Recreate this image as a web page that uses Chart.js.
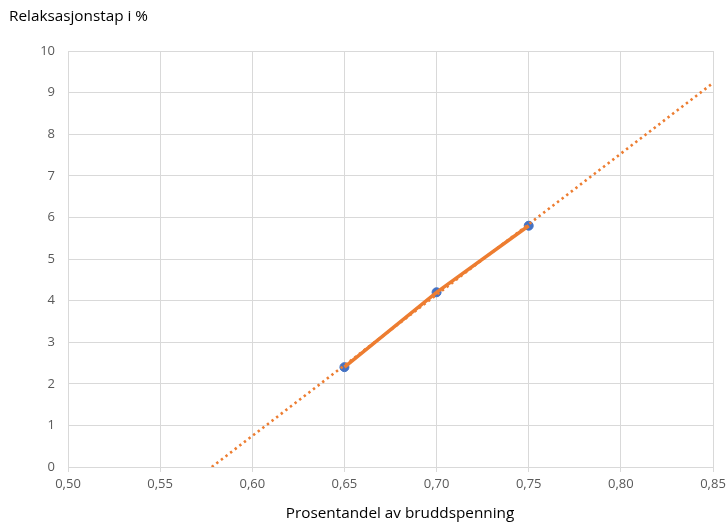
<!DOCTYPE html>
<html>
<head>
<meta charset="utf-8">
<script src="https://cdn.jsdelivr.net/npm/chart.js@4/dist/chart.umd.min.js"></script>
<style>
  html, body { margin: 0; padding: 0; background: #fff; }
  #wrap { width: 727px; height: 523px; }
</style>
</head>
<body>
<div id="wrap"><canvas id="chart" width="727" height="523"></canvas></div>
<script>
// Data
const spanFraction = [0.65, 0.70, 0.75];
const relaxLoss = [2.4, 4.2, 5.8];
// Dotted linear trend line, endpoints
const trendX = [0.578, 0.85];
const trendY = [0, 9.23];
const xTickValues = [0.5, 0.55, 0.6, 0.65, 0.7, 0.75, 0.8, 0.85];

const yTitle = 'Relaksasjonstap i %';
const xTitle = 'Prosentandel av bruddspenning';

const blue = '#4472C4';
const orange = '#ED7D31';
const gridColor = '#d9d9d9';
const tickColor = '#595959';
const fontFamily = "'Open Sans', 'Noto Sans', sans-serif";

// Draws the two axis titles where the reference puts them
const titlesPlugin = {
    id: 'titles',
    afterDraw(chart) {
        const ctx = chart.ctx;
        ctx.save();
        ctx.fillStyle = '#000';
        ctx.font = '15.3px ' + fontFamily;
        ctx.textBaseline = 'middle';
        ctx.textAlign = 'left';
        ctx.fillText(yTitle, 9, 17);
        ctx.textAlign = 'center';
        ctx.fillText(xTitle, 400, 514);
        ctx.restore();
    }
};

const points = spanFraction.map((x, i) => ({ x: x, y: relaxLoss[i] }));
const trend = trendX.map((x, i) => ({ x: x, y: trendY[i] }));

new Chart(document.getElementById('chart'), {
    type: 'scatter',
    data: {
        datasets: [{
            label: 'trend',
            data: trend,
            showLine: true,
            borderColor: orange,
            borderWidth: 2.6,
            borderDash: [2.4, 3.4],
            borderCapStyle: 'butt',
            pointRadius: 0,
            order: 0
        }, {
            label: 'line',
            data: points,
            showLine: true,
            borderColor: orange,
            borderWidth: 3.5,
            pointRadius: 0,
            order: 1
        }, {
            label: 'points',
            data: points,
            showLine: false,
            pointRadius: 4.5,
            pointBackgroundColor: blue,
            pointBorderColor: blue,
            order: 2
        }]
    },
    options: {
        responsive: false,
        animation: false,
        layout: { padding: { left: 0, right: 14, top: 51, bottom: 0 } },
        plugins: {
            legend: { display: false },
            tooltip: { enabled: false }
        },
        scales: {
            x: {
                type: 'linear',
                min: 0.5,
                max: 0.85,
                afterFit: (scale) => {
                    scale.height = 56;
                    scale.paddingLeft = 0;
                    scale.paddingRight = 0;
                },
                afterBuildTicks: (scale) => {
                    scale.ticks = xTickValues.map(v => ({ value: v }));
                },
                grid: {
                    color: gridColor,
                    lineWidth: 1,
                    drawTicks: true,
                    tickLength: 5,
                    tickColor: gridColor
                },
                border: { color: gridColor },
                ticks: {
                    color: tickColor,
                    padding: 4,
                    font: { family: fontFamily, size: 13 },
                    callback: (v) => Number(v).toFixed(2).replace('.', ',')
                }
            },
            y: {
                min: 0,
                max: 10,
                afterFit: (scale) => {
                    scale.width = 68;
                    scale.paddingTop = 0;
                    scale.paddingBottom = 0;
                },
                grid: { color: gridColor, lineWidth: 1, drawTicks: false },
                border: { color: gridColor },
                ticks: {
                    stepSize: 1,
                    color: tickColor,
                    padding: 13,
                    font: { family: fontFamily, size: 13 }
                }
            }
        }
    },
    plugins: [titlesPlugin]
});
</script>
</body>
</html>
